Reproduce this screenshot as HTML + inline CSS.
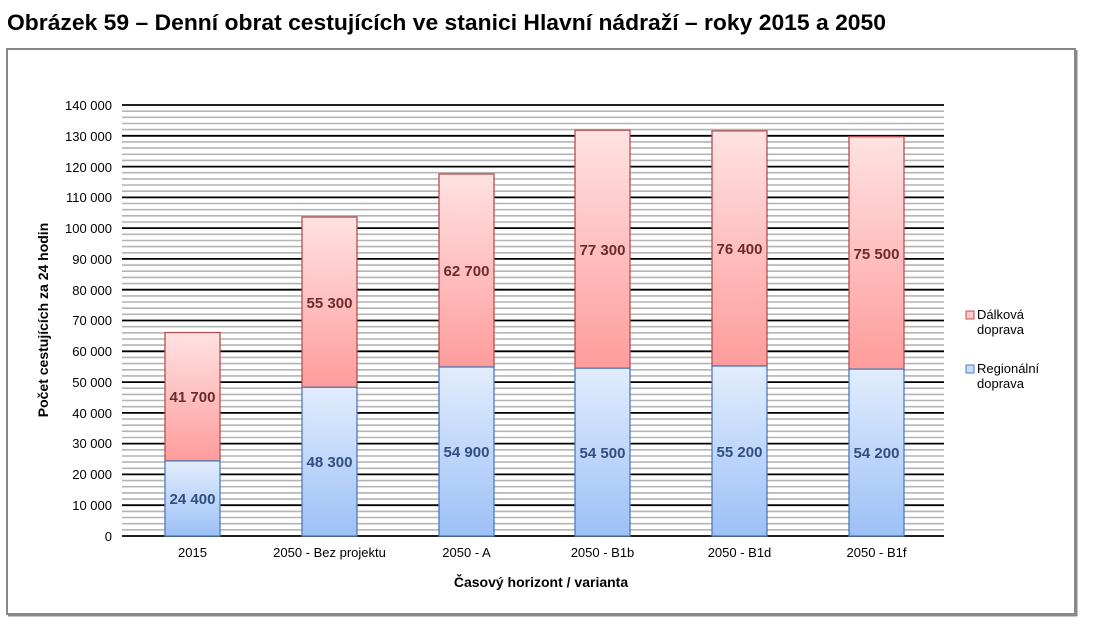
<!DOCTYPE html>
<html><head><meta charset="utf-8"><style>
body{margin:0;background:#fff;width:1093px;height:626px;overflow:hidden;font-family:"Liberation Sans",Arial,sans-serif}
</style></head><body>
<svg width="1093" height="626" xmlns="http://www.w3.org/2000/svg" font-family="Liberation Sans, Arial, sans-serif">
<defs>
<linearGradient id="r" x1="0" y1="0" x2="0" y2="1"><stop offset="0" stop-color="#ffe2e2"/><stop offset="1" stop-color="#ff9c9c"/></linearGradient>
<linearGradient id="b" x1="0" y1="0" x2="0" y2="1"><stop offset="0" stop-color="#e2edfd"/><stop offset="1" stop-color="#9dc0f7"/></linearGradient>
</defs>
<text x="7" y="30" font-size="22" font-weight="bold" fill="#000" textLength="879" lengthAdjust="spacingAndGlyphs">Obrázek 59 – Denní obrat cestujících ve stanici Hlavní nádraží – roky 2015 a 2050</text>
<rect x="7" y="49" width="1068" height="565" fill="#fff" stroke="#888" stroke-width="2"/>
<line x1="1076" y1="50" x2="1076" y2="616" stroke="#888" stroke-width="3"/>
<line x1="8" y1="615" x2="1077" y2="615" stroke="#888" stroke-width="3"/>
<path fill="none" stroke="#b4b4b4" stroke-width="1.6" d="M122 529.8H944M122 523.7H944M122 517.5H944M122 511.4H944M122 499.1H944M122 492.9H944M122 486.7H944M122 480.6H944M122 468.3H944M122 462.1H944M122 456H944M122 449.8H944M122 437.5H944M122 431.3H944M122 425.2H944M122 419H944M122 406.7H944M122 400.5H944M122 394.4H944M122 388.2H944M122 375.9H944M122 369.8H944M122 363.6H944M122 357.4H944M122 345.1H944M122 339H944M122 332.8H944M122 326.7H944M122 314.3H944M122 308.2H944M122 302H944M122 295.9H944M122 283.6H944M122 277.4H944M122 271.2H944M122 265.1H944M122 252.8H944M122 246.6H944M122 240.5H944M122 234.3H944M122 222H944M122 215.8H944M122 209.7H944M122 203.5H944M122 191.2H944M122 185H944M122 178.9H944M122 172.7H944M122 160.4H944M122 154.3H944M122 148.1H944M122 141.9H944M122 129.6H944M122 123.5H944M122 117.3H944M122 111.2H944"/>
<path fill="none" stroke="#000" stroke-width="1.8" d="M122 536H944M122 505.2H944M122 474.4H944M122 443.6H944M122 412.9H944M122 382.1H944M122 351.3H944M122 320.5H944M122 289.7H944M122 258.9H944M122 228.1H944M122 197.4H944M122 166.6H944M122 135.8H944M122 105H944"/>
<g font-size="13" fill="#000" text-anchor="end">
<text x="112" y="110">140 000</text><text x="112" y="141">130 000</text><text x="112" y="172">120 000</text><text x="112" y="202">110 000</text><text x="112" y="233">100 000</text><text x="112" y="264">90 000</text><text x="112" y="295">80 000</text><text x="112" y="325">70 000</text><text x="112" y="356">60 000</text><text x="112" y="387">50 000</text><text x="112" y="418">40 000</text><text x="112" y="448">30 000</text><text x="112" y="479">20 000</text><text x="112" y="510">10 000</text><text x="112" y="541">0</text>
</g>
<text transform="translate(48,320) rotate(-90)" font-size="14" font-weight="bold" text-anchor="middle">Počet cestujících za 24 hodin</text>
<g stroke-width="1.3">
<rect x="165" y="332.5" width="55" height="128.4" fill="url(#r)" stroke="#b55050"/><rect x="165" y="460.9" width="55" height="75.1" fill="url(#b)" stroke="#4d7cba"/>
<rect x="302" y="217" width="55" height="170.3" fill="url(#r)" stroke="#b55050"/><rect x="302" y="387.3" width="55" height="148.7" fill="url(#b)" stroke="#4d7cba"/>
<rect x="439" y="174" width="55" height="193" fill="url(#r)" stroke="#b55050"/><rect x="439" y="367" width="55" height="169" fill="url(#b)" stroke="#4d7cba"/>
<rect x="575" y="130.2" width="55" height="238" fill="url(#r)" stroke="#b55050"/><rect x="575" y="368.2" width="55" height="167.8" fill="url(#b)" stroke="#4d7cba"/>
<rect x="712" y="130.9" width="55" height="235.1" fill="url(#r)" stroke="#b55050"/><rect x="712" y="366" width="55" height="170" fill="url(#b)" stroke="#4d7cba"/>
<rect x="849" y="136.7" width="55" height="232.4" fill="url(#r)" stroke="#b55050"/><rect x="849" y="369.1" width="55" height="166.9" fill="url(#b)" stroke="#4d7cba"/>
</g>
<g font-size="15" font-weight="bold" text-anchor="middle" fill="#6b2b2b">
<text x="192.5" y="402">41 700</text><text x="329.5" y="308">55 300</text><text x="466.5" y="276">62 700</text><text x="602.5" y="255">77 300</text><text x="739.5" y="254">76 400</text><text x="876.5" y="259">75 500</text>
</g>
<g font-size="15" font-weight="bold" text-anchor="middle" fill="#2f4f80">
<text x="192.5" y="504">24 400</text><text x="329.5" y="467">48 300</text><text x="466.5" y="457">54 900</text><text x="602.5" y="458">54 500</text><text x="739.5" y="457">55 200</text><text x="876.5" y="458">54 200</text>
</g>
<g font-size="13" text-anchor="middle">
<text x="192.5" y="557">2015</text><text x="329.5" y="557">2050 - Bez projektu</text><text x="466.5" y="557">2050 - A</text><text x="602.5" y="557">2050 - B1b</text><text x="739.5" y="557">2050 - B1d</text><text x="876.5" y="557">2050 - B1f</text>
</g>
<text x="541" y="587" font-size="14" font-weight="bold" text-anchor="middle">Časový horizont / varianta</text>
<rect x="966" y="311" width="8" height="8" fill="#ffc8c8" stroke="#c05050"/>
<text x="977" y="319" font-size="13">Dálková</text><text x="977" y="334" font-size="13">doprava</text>
<rect x="966" y="365" width="8" height="8" fill="#c8dcfa" stroke="#4d7cba"/>
<text x="977" y="373" font-size="13">Regionální</text><text x="977" y="388" font-size="13">doprava</text>
</svg>
</body></html>
